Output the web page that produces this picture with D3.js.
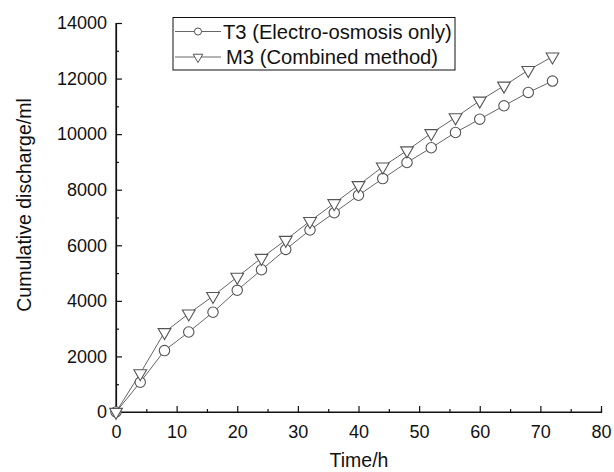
<!DOCTYPE html>
<html>
<head>
<meta charset="utf-8">
<script src="https://cdn.jsdelivr.net/npm/d3@7"></script>
<style>
  body { margin: 0; background: #fff; }
  svg text { font-family: "Liberation Sans", Arial, sans-serif; fill: #111; }
</style>
</head>
<body>
<svg id="chart" width="614" height="472"></svg>
<script>
// hours
const hours = [0, 4, 8, 12, 16, 20, 24, 28, 32, 36, 40, 44, 48, 52, 56, 60, 64, 68, 72];
// T3 (Electro-osmosis only)
const t3Values = [0, 1070, 2210, 2880, 3590, 4380, 5120, 5850, 6550, 7170, 7800, 8400, 8980, 9510, 10060, 10540, 11020, 11500, 11910];
// M3 (Combined method)
const m3Values = [0, 1390, 2870, 3540, 4170, 4860, 5540, 6190, 6870, 7510, 8160, 8830, 9410, 10030, 10600, 11200, 11740, 12300, 12790];

const xTicks = [0, 10, 20, 30, 40, 50, 60, 70, 80];
const yTicks = [0, 2000, 4000, 6000, 8000, 10000, 12000, 14000];
const legendLabels = ["T3 (Electro-osmosis only)", "M3 (Combined method)"];

const svg = d3.select("#chart");

let x = d3.scaleLinear().domain([0, 80]).range([116, 601]);
let y = d3.scaleLinear().domain([0, 14000]).range([412, 23]);

// axes (ticks point inward like Origin)
let xAxis = svg.append("g").attr("transform", "translate(0,412)");
xAxis.call(d3.axisBottom(x).tickValues(xTicks).tickSize(-6).tickPadding(13).tickFormat(d3.format("d")));
xAxis.append("g").call(d3.axisBottom(x).tickValues(d3.range(5, 80, 10)).tickSize(-3).tickFormat(""));

let yAxis = svg.append("g").attr("transform", "translate(116,0)");
yAxis.call(d3.axisLeft(y).tickValues(yTicks).tickSize(-6).tickPadding(9).tickFormat(d3.format("d")));
yAxis.append("g").call(d3.axisLeft(y).tickValues(d3.range(1000, 14000, 2000)).tickSize(-3).tickFormat(""));

svg.selectAll(".domain").attr("stroke", "#111").attr("stroke-width", 1.2);
svg.selectAll(".tick line").attr("stroke", "#111").attr("stroke-width", 1.2);
svg.selectAll(".tick text").style("font-size", "18px").attr("fill", "#111");
// drop the outer end caps of the main domains
xAxis.select(".domain").attr("d", "M116,0H601");
yAxis.select(".domain").attr("d", "M0,412V23");

svg.append("text")
    .attr("x", 359).attr("y", 467)
    .attr("text-anchor", "middle")
    .style("font-size", "19.5px")
    .text("Time/h");

svg.append("text")
    .attr("transform", "translate(31,205) rotate(-90)")
    .attr("text-anchor", "middle")
    .style("font-size", "19.5px")
    .text("Cumulative discharge/ml");

const lineColor = "#666";
const markColor = "#555";

let line = d3.line().x(d => x(d[0])).y(d => y(d[1]));
let t3 = hours.map((h, i) => [h, t3Values[i]]);
let m3 = hours.map((h, i) => [h, m3Values[i]]);

svg.append("path").datum(t3).attr("d", line)
    .attr("fill", "none").attr("stroke", lineColor).attr("stroke-width", 1);
svg.append("path").datum(m3).attr("d", line)
    .attr("fill", "none").attr("stroke", lineColor).attr("stroke-width", 1);

let circleSym = d3.symbol().type(d3.symbolCircle).size(85);
let triSym = d3.symbol().type(d3.symbolTriangle).size(70);

svg.append("g").selectAll("path")
    .data(t3).enter().append("path")
    .attr("d", circleSym)
    .attr("transform", d => `translate(${x(d[0])},${y(d[1])})`)
    .attr("fill", "#fff").attr("stroke", markColor).attr("stroke-width", 1.1);

svg.append("g").selectAll("path")
    .data(m3).enter().append("path")
    .attr("d", triSym)
    .attr("transform", d => `translate(${x(d[0])},${y(d[1])}) rotate(180)`)
    .attr("fill", "#fff").attr("stroke", markColor).attr("stroke-width", 1.1);

// legend
let legend = svg.append("g");
legend.append("rect")
    .attr("x", 173).attr("y", 17.5).attr("width", 282).attr("height", 52.5)
    .attr("fill", "#fff").attr("stroke", "#111").attr("stroke-width", 1);

let rows = [31.5, 57];
legendLabels.forEach((lab, i) => {
    legend.append("line")
        .attr("x1", 175).attr("x2", 221).attr("y1", rows[i]).attr("y2", rows[i])
        .attr("stroke", lineColor).attr("stroke-width", 1);
    legend.append("path")
        .attr("d", i == 0 ? d3.symbol().type(d3.symbolCircle).size(40)() : d3.symbol().type(d3.symbolTriangle).size(40)())
        .attr("transform", i == 0 ? `translate(198,${rows[i]})` : `translate(198,${rows[i]}) rotate(180)`)
        .attr("fill", "#fff").attr("stroke", markColor).attr("stroke-width", 1);
    legend.append("text")
        .attr("x", i == 0 ? 223 : 226).attr("y", rows[i] + 7)
        .style("font-size", "20.2px")
        .text(lab);
});
</script>
</body>
</html>
